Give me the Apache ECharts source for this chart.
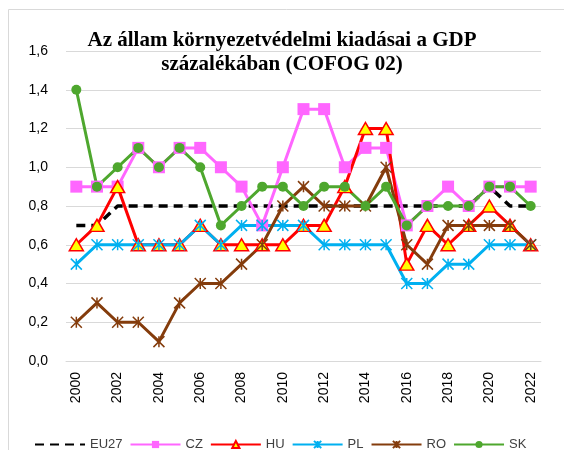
<!DOCTYPE html>
<html>
<head>
<meta charset="utf-8">
<script src="https://cdn.jsdelivr.net/npm/echarts@6/dist/echarts.min.js"></script>
<style>
  html, body { margin: 0; padding: 0; background: #fff; }
  #chart { width: 564px; height: 450px; }
</style>
</head>
<body>
<div id="chart"></div>
<script>
  var years = ['2000','2001','2002','2003','2004','2005','2006','2007','2008','2009','2010','2011',
               '2012','2013','2014','2015','2016','2017','2018','2019','2020','2021','2022']
  var eu27 = [0.7,0.7,0.8,0.8,0.8,0.8,0.8,0.8,0.8,0.8,0.8,0.8,0.8,0.8,0.8,0.8,0.8,0.8,0.8,0.8,0.9,0.8,0.8]
  var cz   = [0.9,0.9,0.9,1.1,1.0,1.1,1.1,1.0,0.9,0.7,1.0,1.3,1.3,1.0,1.1,1.1,0.7,0.8,0.9,0.8,0.9,0.9,0.9]
  var hu   = [0.6,0.7,0.9,0.6,0.6,0.6,0.7,0.6,0.6,0.6,0.6,0.7,0.7,0.9,1.2,1.2,0.5,0.7,0.6,0.7,0.8,0.7,0.6]
  var pl   = [0.5,0.6,0.6,0.6,0.6,0.6,0.7,0.6,0.7,0.7,0.7,0.7,0.6,0.6,0.6,0.6,0.4,0.4,0.5,0.5,0.6,0.6,0.6]
  var ro   = [0.2,0.3,0.2,0.2,0.1,0.3,0.4,0.4,0.5,0.6,0.8,0.9,0.8,0.8,0.8,1.0,0.6,0.5,0.7,0.7,0.7,0.7,0.6]
  var sk   = [1.4,0.9,1.0,1.1,1.0,1.1,1.0,0.7,0.8,0.9,0.9,0.8,0.9,0.9,0.8,0.9,0.7,0.8,0.8,0.8,0.9,0.9,0.8]

  var star = 'path://M0,0L10,10M10,0L0,10M5,0L5,10'
  var font = 'Liberation Sans'

  var myChart = echarts.init(document.getElementById('chart'))
  myChart.setOption({
    animation: false,
    title: {
      text: 'Az állam környezetvédelmi kiadásai a GDP\nszázalékában (COFOG 02)',
      left: 'center',
      top: 24,
      textStyle: {
        fontFamily: 'Liberation Serif',
        fontWeight: 'bold',
        fontSize: 21,
        lineHeight: 24,
        color: '#000'
      }
    },
    graphic: [{
      type: 'rect',
      shape: { x: 8.5, y: 9.5, width: 600, height: 500 },
      style: { fill: 'none', stroke: '#d9d9d9', lineWidth: 1 },
      silent: true
    }],
    grid: { left: 66, right: 23, top: 51, bottom: 89 },
    legend: {
      left: 29,
      top: 433,
      itemWidth: 50,
      itemHeight: 9,
      itemGap: 7,
      textStyle: { fontFamily: font, fontSize: 13, color: '#404040' },
      data: [
        { name: 'EU27', itemStyle: { opacity: 0 } },
        'CZ', 'HU', 'PL', 'RO', 'SK'
      ]
    },
    xAxis: {
      type: 'category',
      data: years,
      axisLine: { lineStyle: { color: '#d9d9d9' } },
      axisTick: { show: false },
      axisLabel: {
        interval: 1,
        rotate: 90,
        margin: 11,
        fontFamily: font,
        fontSize: 14,
        color: '#000'
      }
    },
    yAxis: {
      type: 'value',
      min: 0,
      max: 1.6,
      interval: 0.2,
      axisLine: { show: false },
      axisTick: { show: false },
      splitLine: { lineStyle: { color: '#d9d9d9' } },
      axisLabel: {
        margin: 18,
        fontFamily: font,
        fontSize: 14,
        color: '#000',
        formatter: function (v) { return v.toFixed(1).replace('.', ',') }
      }
    },
    series: [
      {
        name: 'EU27', type: 'line', data: eu27,
        showSymbol: false, symbol: 'none',
        lineStyle: { color: '#000', width: 3.5, type: [9, 6] },
        itemStyle: { color: '#000' }
      },
      {
        name: 'CZ', type: 'line', data: cz,
        symbol: 'rect', symbolSize: 12,
        lineStyle: { color: '#FF66FF', width: 3 },
        itemStyle: { color: '#FF66FF' }
      },
      {
        name: 'HU', type: 'line', data: hu,
        symbol: 'triangle', symbolSize: [14, 12],
        lineStyle: { color: '#FF0000', width: 3 },
        itemStyle: { color: '#FFFF00', borderColor: '#FF0000', borderWidth: 1.5 }
      },
      {
        name: 'PL', type: 'line', data: pl,
        symbol: star, symbolSize: 11,
        lineStyle: { color: '#00B0F0', width: 3 },
        itemStyle: { color: '#00B0F0', borderColor: '#00B0F0', borderWidth: 1.5 }
      },
      {
        name: 'RO', type: 'line', data: ro,
        symbol: star, symbolSize: 11,
        lineStyle: { color: '#843C0C', width: 3 },
        itemStyle: { color: '#843C0C', borderColor: '#843C0C', borderWidth: 1.5 }
      },
      {
        name: 'SK', type: 'line', data: sk,
        symbol: 'circle', symbolSize: 10,
        lineStyle: { color: '#4EA72E', width: 3 },
        itemStyle: { color: '#4EA72E' }
      }
    ]
  })
</script>
</body>
</html>
